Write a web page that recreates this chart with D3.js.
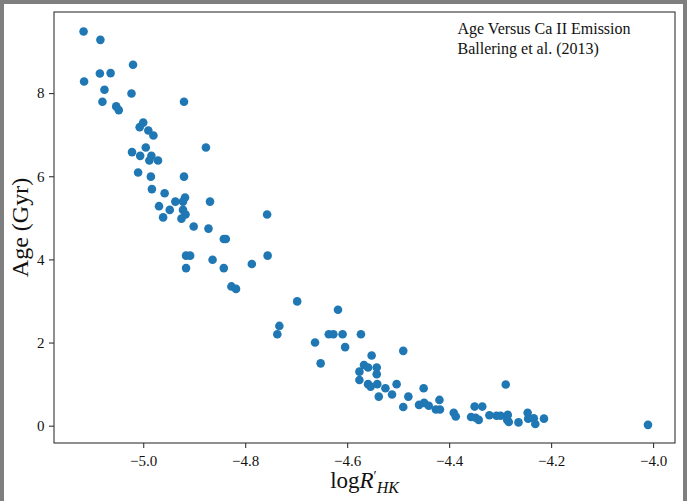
<!DOCTYPE html>
<html>
<head>
<meta charset="utf-8">
<script src="https://cdn.jsdelivr.net/npm/d3@7"></script>
<style>
  html, body { margin: 0; padding: 0; background: #7f7f7f; }
  svg { display: block; }
  text { font-family: "Liberation Serif", "Times New Roman", serif; fill: #111; }
</style>
</head>
<body>
<svg id="chart" width="687" height="501"></svg>
<script>
// Chromospheric activity index log R'HK for each star
const logRHK = [
  -5.117, -5.084, -5.020, -5.085, -5.064, -5.116, -5.076, -5.023, -5.080, -4.920,
  -5.053, -5.048, -5.000, -5.007, -4.990, -4.980, -4.877, -4.995, -5.022, -5.006,
  -4.984, -4.988, -4.971, -5.010, -4.985, -4.920, -4.983, -4.958, -4.918, -4.922,
  -4.937, -4.869, -4.969, -4.948, -4.922, -4.917, -4.757, -4.961, -4.925, -4.901,
  -4.872, -4.842, -4.838, -4.916, -4.908, -4.756, -4.864, -4.787, -4.916, -4.842,
  -4.827, -4.818, -4.698, -4.733, -4.737, -4.618, -4.663, -4.636, -4.627, -4.609,
  -4.573, -4.604, -4.652, -4.552, -4.490, -4.567, -4.559, -4.542, -4.542, -4.576,
  -4.576, -4.559, -4.554, -4.541, -4.525, -4.503, -4.538, -4.512, -4.480, -4.450,
  -4.490, -4.419, -4.459, -4.449, -4.440, -4.426, -4.418, -4.391, -4.387, -4.350,
  -4.335, -4.357, -4.348, -4.342, -4.321, -4.307, -4.299, -4.285, -4.286, -4.283,
  -4.264, -4.246, -4.245, -4.234, -4.231, -4.214, -4.010, -4.289
];

// Stellar age in Gyr, same order as logRHK
const ageGyr = [
  9.48, 9.28, 8.68, 8.47, 8.48, 8.28, 8.08, 7.99, 7.79, 7.79,
  7.68, 7.59, 7.29, 7.18, 7.10, 6.98, 6.69, 6.69, 6.58, 6.49,
  6.49, 6.38, 6.38, 6.09, 5.99, 5.99, 5.69, 5.59, 5.49, 5.39,
  5.39, 5.39, 5.28, 5.19, 5.19, 5.08, 5.08, 5.01, 4.98, 4.79,
  4.74, 4.49, 4.49, 4.09, 4.09, 4.09, 3.99, 3.89, 3.79, 3.79,
  3.35, 3.29, 2.99, 2.40, 2.20, 2.79, 2.00, 2.20, 2.20, 2.20,
  2.20, 1.89, 1.50, 1.69, 1.80, 1.46, 1.40, 1.40, 1.24, 1.30,
  1.10, 1.00, 0.94, 1.00, 0.90, 1.00, 0.70, 0.75, 0.70, 0.90,
  0.45, 0.62, 0.50, 0.55, 0.48, 0.39, 0.39, 0.31, 0.22, 0.46,
  0.46, 0.21, 0.19, 0.14, 0.25, 0.24, 0.24, 0.26, 0.14, 0.09,
  0.08, 0.31, 0.17, 0.18, 0.04, 0.17, 0.02, 0.99
];

const xTicks = [-5.0, -4.8, -4.6, -4.4, -4.2, -4.0];
const yTicks = [0, 2, 4, 6, 8];
const noteLines = ["Age Versus Ca II Emission", "Ballering et al. (2013)"];

const W = 687, H = 501;
const plot = { left: 54, top: 12, right: 675, bottom: 443 };

const svg = d3.select("#chart");

// outer grey frame with white canvas
svg.append("rect").attr("x", 0).attr("y", 0).attr("width", W).attr("height", H).attr("fill", "#7f7f7f");
svg.append("rect").attr("x", 4).attr("y", 4).attr("width", W - 8).attr("height", H - 4).attr("fill", "#ffffff");

const x = d3.scaleLinear().domain([-5.175, -3.957]).range([plot.left, plot.right]);
const y = d3.scaleLinear().domain([-0.416, 9.95]).range([plot.bottom, plot.top]);

const points = logRHK.map((v, i) => ({ r: v, age: ageGyr[i] }));

// scatter
svg.append("g")
  .selectAll("circle")
  .data(points)
  .join("circle")
  .attr("cx", d => x(d.r))
  .attr("cy", d => y(d.age))
  .attr("r", 4.3)
  .attr("fill", "#1f77b4");

// axes
const fmtX = d3.format(".1f");
const xAxis = svg.append("g")
  .attr("transform", `translate(0,${plot.bottom})`)
  .call(d3.axisBottom(x).tickValues(xTicks).tickFormat(fmtX).tickSize(5).tickPadding(7));
const yAxis = svg.append("g")
  .attr("transform", `translate(${plot.left},0)`)
  .call(d3.axisLeft(y).tickValues(yTicks).tickFormat(d3.format("d")).tickSize(5).tickPadding(4.5));

[xAxis, yAxis].forEach(g => {
  g.select(".domain").remove();
  g.selectAll(".tick line").attr("stroke", "#333").attr("stroke-width", 1.1);
  g.selectAll(".tick text")
    .attr("fill", "#111")
    .style("font-family", '"Liberation Serif", serif')
    .style("font-size", "15px");
});

// plot frame
svg.append("rect")
  .attr("x", plot.left).attr("y", plot.top)
  .attr("width", plot.right - plot.left).attr("height", plot.bottom - plot.top)
  .attr("fill", "none").attr("stroke", "#333").attr("stroke-width", 1.1);

// annotation in the upper right
svg.append("g")
  .selectAll("text")
  .data(noteLines)
  .join("text")
  .attr("x", 457.5)
  .attr("y", (d, i) => 33.5 + i * 20)
  .style("font-size", "16px")
  .text(d => d);

// x axis label: log R'_HK
const xl = svg.append("text")
  .attr("x", (plot.left + plot.right) / 2)
  .attr("y", 488)
  .attr("text-anchor", "middle")
  .style("font-size", "23px");
xl.append("tspan").text("log");
xl.append("tspan").style("font-style", "italic").text("R");
xl.append("tspan").attr("dy", -7).style("font-size", "14px").text("\u2032");
xl.append("tspan").attr("dy", 12).style("font-size", "16px").style("font-style", "italic").text("HK");

// y axis label
svg.append("text")
  .attr("transform", `translate(28,${(plot.top + plot.bottom) / 2}) rotate(-90)`)
  .attr("text-anchor", "middle")
  .style("font-size", "24px")
  .text("Age (Gyr)");
</script>
</body>
</html>
